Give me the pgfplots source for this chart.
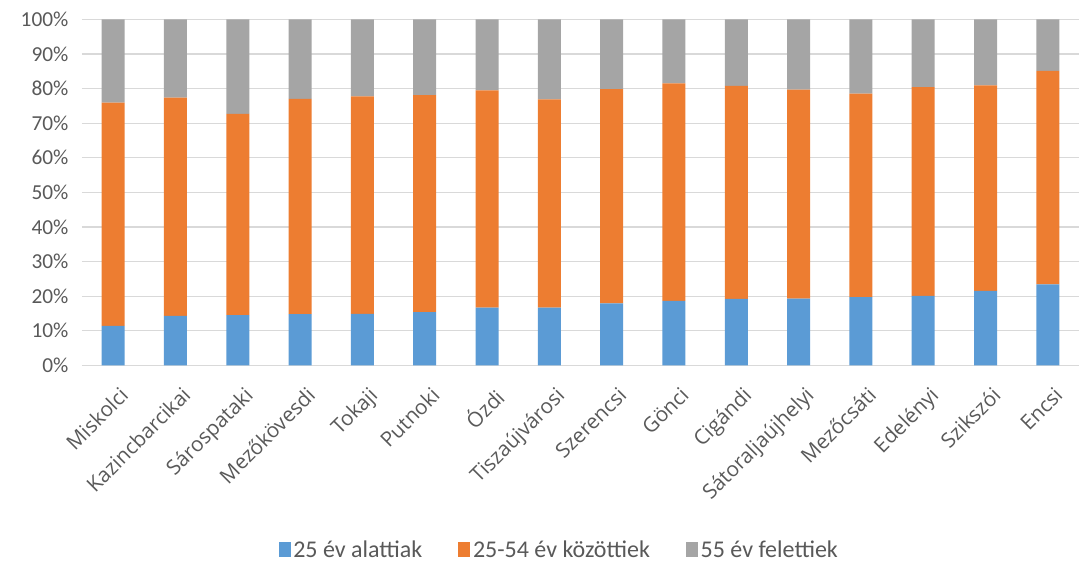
\documentclass[border=0pt]{standalone}
\usepackage{fontspec}
\setmainfont{Carlito}
\newfontfamily\labelfont{Open Sans}
\usepackage{pgfplots}
\pgfplotsset{compat=1.18}
\definecolor{cblue}{HTML}{5B9BD5}
\definecolor{corange}{HTML}{ED7D31}
\definecolor{cgray}{HTML}{A5A5A5}
\definecolor{cgrid}{HTML}{D9D9D9}
\definecolor{ctext}{HTML}{595959}
\pgfplotstableread{
idx young mid old
0  11.4 64.5 24.1
1  14.3 63.1 22.6
2  14.5 58.2 27.3
3  14.8 62.2 23.0
4  14.9 62.8 22.3
5  15.4 62.7 21.9
6  16.7 62.8 20.5
7  16.7 60.2 23.1
8  17.9 61.9 20.2
9  18.6 62.9 18.5
10 19.2 61.6 19.2
11 19.3 60.4 20.3
12 19.7 58.8 21.5
13 20.1 60.3 19.6
14 21.5 59.4 19.1
15 23.4 61.7 14.9
}\data
\begin{document}
\begin{tikzpicture}
\path[use as bounding box] (-61.5pt,-148pt) rectangle (753pt,274pt);
\begin{axis}[
  scale only axis,
  width=747.75pt, height=259.5pt,
  ybar stacked,
  bar width=17.25pt,
  xmin=-0.5, xmax=15.5,
  ymin=0, ymax=100,
  ytick={0,10,...,100},
  yticklabel={\pgfmathprintnumber{\tick}\%},
  xtick={0,...,15},
  xticklabels={Miskolci,Kazincbarcikai,Sárospataki,Mezőkövesdi,Tokaji,Putnoki,Ózdi,Tiszaújvárosi,Szerencsi,Gönci,Cigándi,Sátoraljaújhelyi,Mezőcsáti,Edelényi,Szikszói,Encsi},
  xticklabel style={xshift=4pt, yshift=-15pt, rotate=45, anchor=north east, inner sep=0pt,
    font=\labelfont\fontsize{15.5}{18}\selectfont, text=ctext},
  yticklabel style={font=\fontsize{16}{19}\selectfont, text=ctext, inner sep=0pt, xshift=-10pt},
  /pgf/number format/assume math mode=true,
  major tick length=0pt,
  ymajorgrids,
  grid style={cgrid, line width=0.9pt},
  axis line style={draw=none},
  legend style={at={(0.479,-0.535)}, anchor=center, draw=none, legend columns=-1,
    font=\fontsize{18}{21}\selectfont, text=ctext,
    /tikz/every even column/.append style={column sep=25pt}},
  legend image code/.code={\fill[#1] (0pt,-5pt) rectangle (9pt,6pt);},
]
\addplot[fill=cblue, draw=none] table[x=idx, y=young] {\data};
\addplot[fill=corange, draw=none] table[x=idx, y=mid] {\data};
\addplot[fill=cgray, draw=none] table[x=idx, y=old] {\data};
\legend{25 év alattiak, 25-54 év közöttiek, 55 év felettiek}
\end{axis}
\end{tikzpicture}
\end{document}
